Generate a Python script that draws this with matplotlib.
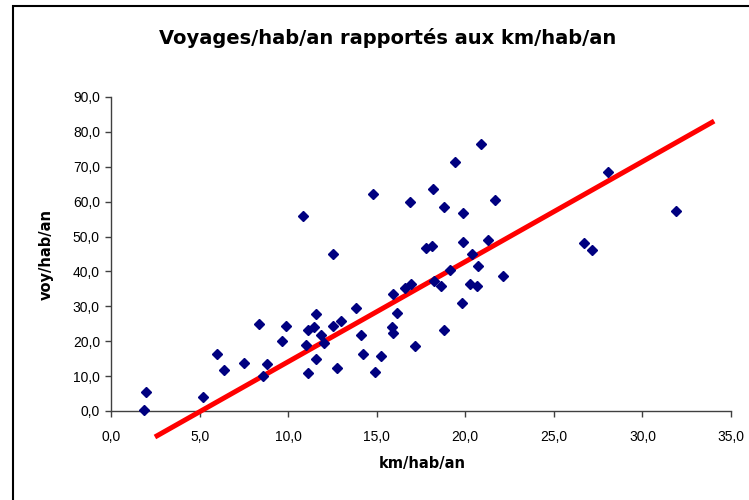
import matplotlib
matplotlib.use("Agg")
import matplotlib.pyplot as plt
from matplotlib.ticker import FuncFormatter, MultipleLocator
from matplotlib.patches import Rectangle

plt.rcParams["font.family"] = ["Liberation Sans", "DejaVu Sans"]

# km/hab/an
km = [1.98, 1.88, 5.21, 6.0, 6.38, 7.51, 8.34, 8.58, 8.79, 9.66,
      9.88, 10.86, 11.03, 11.1, 11.1, 11.48, 11.58, 11.58, 11.84, 12.05,
      12.55, 12.55, 12.74, 13.0, 13.82, 14.1, 14.25, 14.79, 14.89, 15.25,
      15.87, 15.94, 15.94, 16.13, 16.62, 16.94, 16.9, 17.18, 18.16, 17.8,
      18.1, 18.82, 19.44, 20.87, 19.89, 21.68, 19.89, 21.3, 20.4, 20.7,
      19.14, 18.24, 18.63, 20.27, 20.65, 22.13, 19.8, 18.82, 26.7, 27.16,
      28.05, 31.88]
# voy/hab/an
voy = [5.4, 0.3, 4.1, 16.3, 11.7, 13.9, 24.9, 9.9, 13.6, 20.1,
       24.5, 55.9, 19.0, 10.9, 23.2, 24.0, 27.8, 15.0, 21.8, 19.4,
       45.0, 24.5, 12.2, 25.9, 29.4, 21.8, 16.3, 62.3, 11.3, 15.9,
       24.1, 22.3, 33.6, 28.2, 35.3, 36.3, 59.9, 18.7, 63.6, 46.8,
       47.3, 58.6, 71.3, 76.4, 56.7, 60.5, 48.5, 49.0, 45.1, 41.7,
       40.4, 37.3, 35.8, 36.4, 35.8, 38.6, 30.9, 23.2, 48.1, 46.2,
       68.6, 57.2]

# trend line end points
trend_x = [2.48, 34.05]
trend_y = [-7.45, 83.1]

BOLD_FONT = ["DejaVu Sans"]


def comma(v, pos):
    return f"{v:.1f}".replace(".", ",")


def main():
    fig = plt.figure(figsize=(7.49, 5.0), dpi=100)
    fig.patches.append(Rectangle((12.5 / 749, -0.1), 1.2, 1.1 - 6.5 / 500,
                                 transform=fig.transFigure, fill=False,
                                 edgecolor="black", linewidth=1.5))
    ax = fig.add_axes([111 / 749, 1 - 411 / 500, 620 / 749, 314 / 500])

    ax.plot(trend_x, trend_y, color="#ff0000", linewidth=3.6,
            clip_on=False, zorder=3, solid_capstyle="butt")
    ax.plot(km, voy, linestyle="none", marker="D", markersize=4.9,
            color="#000080", zorder=4, clip_on=False)

    ax.set_xlim(0, 35)
    ax.set_ylim(0, 90)
    ax.xaxis.set_major_locator(MultipleLocator(5))
    ax.yaxis.set_major_locator(MultipleLocator(10))
    ax.xaxis.set_major_formatter(FuncFormatter(comma))
    ax.yaxis.set_major_formatter(FuncFormatter(comma))
    ax.tick_params(direction="out", length=4, width=1, colors="#404040",
                   labelcolor="black", labelsize=10, pad=4)
    ax.tick_params(axis="x", pad=10)
    for side in ["top", "right"]:
        ax.spines[side].set_visible(False)
    for side in ["left", "bottom"]:
        ax.spines[side].set_color("#404040")
        ax.spines[side].set_linewidth(1)

    fig.text(387.5 / 749, 1 - 43.5 / 500, "Voyages/hab/an rapportés aux km/hab/an",
             ha="center", va="baseline", fontsize=14, weight="bold",
             family=BOLD_FONT)
    fig.text(422 / 749, 1 - 468 / 500, "km/hab/an", ha="center", va="baseline",
             fontsize=10.5, weight="bold", family=BOLD_FONT)
    fig.text(46.5 / 749, 1 - 254 / 500, "voy/hab/an", ha="center", va="center",
             rotation=90, fontsize=10.5, weight="bold", family=BOLD_FONT)

    fig.savefig("out.png", dpi=100)


if __name__ == "__main__":
    main()
